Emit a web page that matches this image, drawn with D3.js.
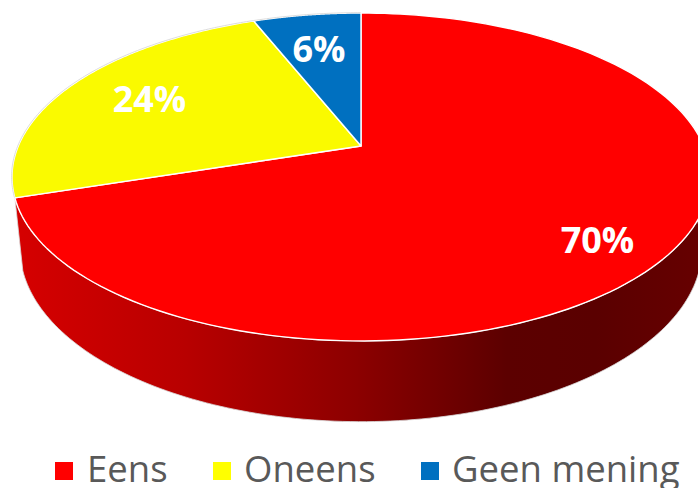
<!DOCTYPE html>
<html><head><meta charset="utf-8">
<script src="https://cdn.jsdelivr.net/npm/d3@7/dist/d3.min.js"></script>
<style>html,body{margin:0;padding:0;background:#fff;overflow:hidden}svg{display:block}</style>
</head><body><svg id="c" width="698" height="488"></svg>
<script>
const categories = ["Eens","Oneens","Geen mening"];
const values = [70,24,6];
const labels = ["70%","24%","6%"];
const topColors = ["#ff0000","#fafa00","#0070c0"];
const legendColors = ["#ff0000","#ffff00","#0070c0"];

const svg = d3.select("#c");
const cx=361, vy=146, persp=-0.189, ax=342.7, ay=130.5;
function proj(t,sx=1,sy=1,dy=0){
  const X=Math.sin(t), Y=-Math.cos(t), w=1+persp*Y;
  return [cx+sx*ax*X/w, vy+dy+sy*ay*Y/w+sy*(vy/w-vy)];
}
const pie=d3.pie().sort(null).value(d=>d)(values);
const line=d3.line();
const samples=(a,b,o)=>d3.range(0,161).map(i=>proj(a+(b-a)*i/160,...(o||[])));

// side wall
const sideOpts=[0.977,1.055,70];
const defs=svg.append("defs");
const grad=defs.append("linearGradient").attr("id","side").attr("gradientUnits","userSpaceOnUse")
  .attr("x1",15).attr("x2",698).attr("y1",0).attr("y2",0);
[[0,"#d60000"],[0.25,"#b80000"],[0.5,"#8c0000"],[0.72,"#5c0000"],[0.85,"#5a0000"],[1,"#660000"]]
  .forEach(s=>grad.append("stop").attr("offset",s[0]).attr("stop-color",s[1]));
const sideStart=pie[0].endAngle, sideEnd=Math.PI*0.42;
const sidePts=samples(sideStart,sideEnd).concat(samples(sideEnd,sideStart,sideOpts));
svg.append("path").attr("d",line(sidePts)+"Z").attr("fill","url(#side)")
  .attr("stroke","#d9d9d9").attr("stroke-width",0.8);

// top slices
svg.selectAll("path.s").data(pie).join("path").attr("class","s")
  .attr("d",d=>line([[cx,vy]].concat(samples(d.startAngle,d.endAngle)))+"Z")
  .attr("fill",(d,i)=>topColors[i]).attr("stroke","#fff").attr("stroke-width",1.4).attr("stroke-linejoin","round");

// faint outer rim on the back edge
svg.append("path").attr("d",line(samples(sideStart,Math.PI*2))).attr("fill","none")
  .attr("stroke","#d4d4d4").attr("stroke-width",0.8).attr("transform","translate(-0.4,-0.4)");

// data labels
const labelPos=[[597.5,239],[149.5,98],[319,48]];
svg.selectAll("text.l").data(labels).join("text").attr("class","l")
  .attr("x",(d,i)=>labelPos[i][0]).attr("y",(d,i)=>labelPos[i][1])
  .attr("text-anchor","middle").attr("dominant-baseline","central")
  .attr("font-family","'Open Sans'").attr("font-weight",700).attr("font-size",36).attr("fill","#fff").text(d=>d);

// legend
const legX=[55,213,421], txtX=[87,244,452];
categories.forEach((c,i)=>{
  svg.append("rect").attr("x",legX[i]).attr("y",462).attr("width",18).attr("height",18).attr("fill",legendColors[i]);
  svg.append("text").attr("x",txtX[i]).attr("y",482).attr("font-family","'Open Sans'").attr("font-size",36.5).attr("fill","#595959").text(c);
});
</script></body></html>
